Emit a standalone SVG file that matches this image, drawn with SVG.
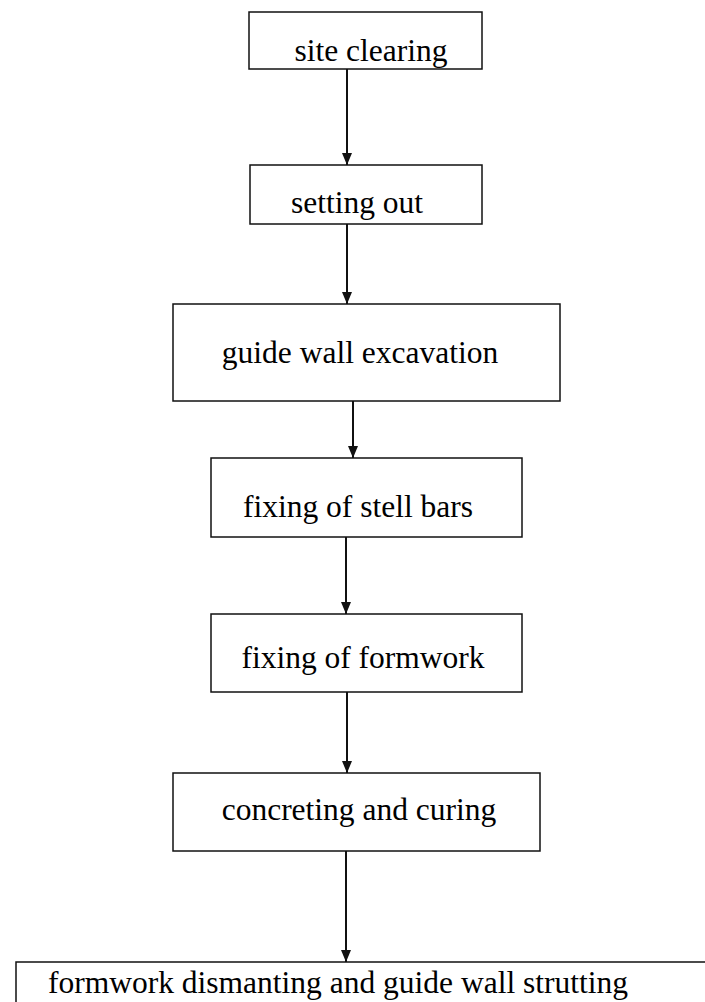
<svg xmlns="http://www.w3.org/2000/svg" width="705" height="1002" viewBox="0 0 705 1002">
<style>
.box{fill:#fff;stroke:#111;stroke-width:1.5}
.lbl{font-family:"Liberation Serif","Times New Roman",serif;font-size:31.5px;fill:#000;text-anchor:middle}
.con{fill:none;stroke:#111;stroke-width:2}
</style>
<defs>
<marker id="ah" markerUnits="userSpaceOnUse" markerWidth="12" markerHeight="12" viewBox="0 0 12 12" refX="12" refY="6" orient="auto">
<path d="M0,1 L12,6 L0,11 Z" fill="#111"/>
</marker>
</defs>
<rect width="705" height="1002" fill="#fff"/>
<g id="connectors">
<path class="con" d="M347,69 V165" marker-end="url(#ah)"/>
<path class="con" d="M347,224 V304" marker-end="url(#ah)"/>
<path class="con" d="M353,401 V458" marker-end="url(#ah)"/>
<path class="con" d="M346,537 V614" marker-end="url(#ah)"/>
<path class="con" d="M347,692 V773" marker-end="url(#ah)"/>
<path class="con" d="M346,851 V962" marker-end="url(#ah)"/>
</g>
<g id="n1"><rect class="box" x="249" y="12" width="233" height="57"/><text class="lbl" x="371" y="61">site clearing</text></g>
<g id="n2"><rect class="box" x="250" y="165" width="232" height="59"/><text class="lbl" x="357" y="213">setting out</text></g>
<g id="n3"><rect class="box" x="173" y="304" width="387" height="97"/><text class="lbl" x="360" y="363">guide wall excavation</text></g>
<g id="n4"><rect class="box" x="211" y="458" width="311" height="79"/><text class="lbl" x="358" y="517">fixing of stell bars</text></g>
<g id="n5"><rect class="box" x="211" y="614" width="311" height="78"/><text class="lbl" x="363" y="668">fixing of formwork</text></g>
<g id="n6"><rect class="box" x="173" y="773" width="367" height="78"/><text class="lbl" x="359" y="820">concreting and curing</text></g>
<g id="n7"><rect class="box" x="16" y="962" width="720" height="80"/><text class="lbl" x="338" y="993">formwork dismanting and guide wall strutting</text></g>
</svg>
